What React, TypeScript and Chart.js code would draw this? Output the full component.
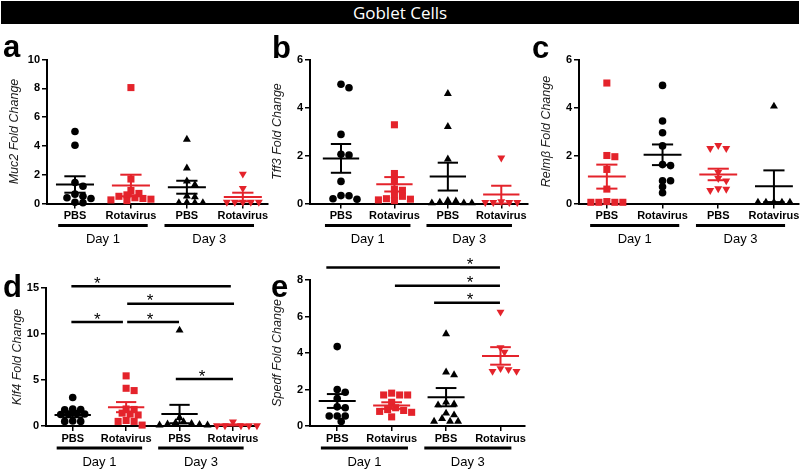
import React, { useEffect, useRef } from "react";
import { Chart, registerables } from "chart.js";
Chart.register(...registerables);

const groupLabels = ["PBS", "Rotavirus", "PBS", "Rotavirus"];
const dayLabels = ["Day 1", "Day 3"];

// a — Muc2
const muc2PbsD1 = [5.0, 4.05, 1.45, 1.2, 0.65, 0.5, 0.4, 0.35, 0.05, 0.08];
const muc2RotaD1 = [8.05, 1.7, 0.9, 0.7, 0.6, 0.5, 0.4, 0.35, 0.3, 0.25, 0.2];
const muc2PbsD3 = [4.45, 2.45, 1.55, 1.3, 0.5, 0.45, 0.08, 0.05, 0.05, 0.05];
const muc2RotaD3 = [2.05, 1.05, 0.1, 0.1, 0.1, 0.1, 0.1];
const muc2Mean = [1.32, 1.25, 1.13, 0.45];
const muc2Sem = [0.57, 0.75, 0.45, 0.3];

// b — Tff3
const tff3PbsD1 = [4.97, 4.82, 2.88, 2.05, 2.02, 0.92, 0.33, 0.32, 0.2, 0.18];
const tff3RotaD1 = [3.28, 1.25, 0.95, 0.6, 0.55, 0.35, 0.3, 0.2, 0.18, 0.15, 0.12];
const tff3PbsD3 = [4.58, 3.2, 1.85, 0.12, 0.05, 0.02, 0.02, 0.02, 0.1];
const tff3RotaD3 = [1.9, 0.08, 0.05, 0.05, 0.05, 0.05];
const tff3Mean = [1.88, 0.8, 1.12, 0.37];
const tff3Sem = [0.6, 0.3, 0.58, 0.37];

// c — Relmβ
const relmPbsD1 = [5.02, 2.0, 1.95, 1.42, 0.6, 0.08, 0.05, 0.05, 0.05, 0.05];
const relmRotaD1 = [4.92, 3.44, 2.95, 2.4, 1.62, 1.58, 0.95, 0.95, 0.7, 0.45];
const relmPbsD3 = [2.42, 2.3, 2.3, 1.3, 1.05, 0.95, 0.62, 0.6, 0.55];
const relmRotaD3 = [4.05, 0.05, 0.05, 0.05, 0.05, 0.05];
const relmMean = [1.12, 2.03, 1.21, 0.72];
const relmSem = [0.5, 0.43, 0.24, 0.66];

// d — Klf4
const klf4PbsD1 = [3.1, 1.85, 1.8, 1.75, 1.35, 1.3, 1.3, 1.25, 0.55, 0.5, 0.5];
const klf4RotaD1 = [5.45, 4.1, 3.85, 1.85, 1.8, 1.4, 1.3, 1.2, 0.6, 0.5, 0.5, 0.1];
const klf4PbsD3 = [10.4, 0.9, 0.45, 0.35, 0.25, 0.2, 0.15, 0.1, 0.1];
const klf4RotaD3 = [0.45, 0.05, 0.05, 0.05, 0.05, 0.05];
const klf4Mean = [1.2, 2.05, 1.3, 0.12];
const klf4Sem = [0.25, 0.55, 1.0, 0.06];
const klf4Sig = [
  { from: 0.975, to: 3.96, y: 15.2, star: 1.46 },
  { from: 2.02, to: 4.02, y: 13.3, star: 2.45 },
  { from: 0.975, to: 1.94, y: 11.3, star: 1.46 },
  { from: 2.02, to: 2.99, y: 11.3, star: 2.45 },
  { from: 2.93, to: 4.0, y: 5.1, star: 3.42 },
];

// e — Spedf
const spedfPbsD1 = [4.35, 2.0, 1.85, 1.5, 1.05, 1.0, 0.55, 0.55, 0.55, 0.25];
const spedfRotaD1 = [1.8, 1.7, 1.7, 1.7, 1.3, 1.0, 0.9, 0.85, 0.8, 0.75, 0.5];
const spedfPbsD3 = [5.05, 2.95, 2.8, 1.3, 1.2, 1.15, 0.7, 0.6, 0.4, 0.25, 0.25, 0.25];
const spedfRotaD3 = [6.25, 4.3, 4.05, 3.1, 3.0, 3.0, 3.15];
const spedfMean = [1.37, 1.12, 1.58, 3.84];
const spedfSem = [0.38, 0.18, 0.5, 0.48];
const spedfSig = [
  { from: 0.8, to: 3.99, y: 8.68, star: 3.44 },
  { from: 2.06, to: 3.99, y: 7.68, star: 3.44 },
  { from: 2.78, to: 3.99, y: 6.76, star: 3.44 },
];

const RED = "#e4232b";
const BLACK = "#000000";
const FONT = '"Liberation Sans", Arial, sans-serif';

type St = { color: string; shape: string };
const stylesStd: St[] = [
  { color: BLACK, shape: "circle" },
  { color: RED, shape: "rect" },
  { color: BLACK, shape: "triangle" },
  { color: RED, shape: "invtriangle" },
];
const stylesC: St[] = [
  { color: RED, shape: "rect" },
  { color: BLACK, shape: "circle" },
  { color: RED, shape: "invtriangle" },
  { color: BLACK, shape: "triangle" },
];

type Sig = { from: number; to: number; y: number; star: number };
type PanelCfg = {
  letter: string;
  title: string;
  values: number[][];
  mean: number[];
  sem: number[];
  sig: Sig[];
  yMax: number;
  yStep: number;
  box: { x: number; y: number; w: number; h: number };
  area: { l: number; t: number; r: number; b: number };
  xMin: number;
  xMax: number;
  titleX: number;
  letterX: number;
  letterBase: number;
  styles: St[];
};

const X_H = 30;

// Column-scatter layout on a 4px lattice: each point takes the nearest free
// horizontal slot around its group centre (staggered rows like GraphPad).
function swarm(vals: number[], pxY: number, pxX: number, step = 4, minDist = 5.5): number[] {
  const order = vals.map((_, i) => i).sort((a, b) => vals[b] - vals[a]);
  const placed: { x: number; y: number }[] = [];
  const res = new Array(vals.length).fill(0);
  for (const i of order) {
    const y = vals[i] * pxY;
    for (let k = 0; k < 80; k++) {
      const x = Math.ceil(k / 2) * (k % 2 === 1 ? 1 : -1) * step;
      if (placed.every((p) => Math.hypot(p.x - x, p.y - y) >= minDist)) {
        placed.push({ x, y });
        res[i] = x / pxX;
        break;
      }
    }
  }
  return res;
}

const panels: PanelCfg[] = [
  {
    letter: "a", title: "Muc2 Fold Change",
    values: [muc2PbsD1, muc2RotaD1, muc2PbsD3, muc2RotaD3], mean: muc2Mean, sem: muc2Sem, sig: [],
    yMax: 10, yStep: 2, box: { x: 0, y: 26, w: 300, h: 224 }, area: { l: 47, t: 59.5, r: 268, b: 203.5 },
    xMin: 0.5, xMax: 4.45, titleX: 15, letterX: 3, letterBase: 57, styles: stylesStd,
  },
  {
    letter: "b", title: "Tff3 Fold Change",
    values: [tff3PbsD1, tff3RotaD1, tff3PbsD3, tff3RotaD3], mean: tff3Mean, sem: tff3Sem, sig: [],
    yMax: 6, yStep: 2, box: { x: 262, y: 26, w: 298, h: 224 }, area: { l: 310, t: 59.5, r: 528, b: 203.5 },
    xMin: 0.42, xMax: 4.5, titleX: 278, letterX: 272, letterBase: 58, styles: stylesStd,
  },
  {
    letter: "c", title: "Relmβ Fold Change",
    values: [relmPbsD1, relmRotaD1, relmPbsD3, relmRotaD3], mean: relmMean, sem: relmSem, sig: [],
    yMax: 6, yStep: 2, box: { x: 531, y: 26, w: 300, h: 224 }, area: { l: 579, t: 59.5, r: 799, b: 203.5 },
    xMin: 0.5, xMax: 4.45, titleX: 547, letterX: 532, letterBase: 58, styles: stylesC,
  },
  {
    letter: "d", title: "Klf4 Fold Change",
    values: [klf4PbsD1, klf4RotaD1, klf4PbsD3, klf4RotaD3], mean: klf4Mean, sem: klf4Sem, sig: klf4Sig,
    yMax: 15, yStep: 5, box: { x: 0, y: 250, w: 290, h: 222 }, area: { l: 46, t: 288, r: 257, b: 426 },
    xMin: 0.5, xMax: 4.45, titleX: 18, letterX: 3, letterBase: 297, styles: stylesStd,
  },
  {
    letter: "e", title: "Spedf Fold Change",
    values: [spedfPbsD1, spedfRotaD1, spedfPbsD3, spedfRotaD3], mean: spedfMean, sem: spedfSem, sig: spedfSig,
    yMax: 8, yStep: 2, box: { x: 262, y: 250, w: 298, h: 222 }, area: { l: 310, t: 280, r: 525, b: 426 },
    xMin: 0.5, xMax: 4.45, titleX: 278, letterX: 271, letterBase: 297, styles: stylesStd,
  },
];

function Panel({ cfg }: { cfg: PanelCfg }) {
  const ref = useRef<HTMLCanvasElement | null>(null);
  useEffect(() => {
    const canvas = ref.current;
    if (!canvas) return;
    const { box, area } = cfg;
    const padT = area.t - box.y;
    const padR = box.x + box.w - area.r;
    const padB = box.y + box.h - area.b - X_H;
    const yW = area.l - box.x;
    const pxY = (area.b - area.t) / cfg.yMax;
    const pxX = (area.r - area.l) / (cfg.xMax - cfg.xMin);

    const datasets = cfg.values.map((vals, i) => {
      const st = cfg.styles[i];
      const jit = swarm(vals, pxY, pxX);
      const inv = st.shape === "invtriangle";
      return {
        type: "scatter" as const,
        data: vals.map((v, j) => ({ x: i + 1 + jit[j], y: v })),
        pointStyle: inv ? "triangle" : st.shape,
        pointRotation: inv ? 180 : 0,
        pointRadius: st.shape === "circle" ? 3.8 : st.shape === "rect" ? 5 : 4.6,
        pointBackgroundColor: st.color,
        pointBorderColor: st.color,
        pointBorderWidth: 0,
        showLine: false,
        clip: false as any,
      };
    });

    const extras = {
      id: "extras",
      afterDatasetsDraw(chart: any) {
        const ctx = chart.ctx as CanvasRenderingContext2D;
        const xs = chart.scales.x;
        const ys = chart.scales.y;
        const ca = chart.chartArea;
        const line = (x1: number, y1: number, x2: number, y2: number) => {
          ctx.beginPath();
          ctx.moveTo(x1, y1);
          ctx.lineTo(x2, y2);
          ctx.stroke();
        };
        ctx.save();
        // mean ± SEM
        cfg.mean.forEach((m, i) => {
          const c = i + 1;
          const s = cfg.sem[i];
          ctx.strokeStyle = cfg.styles[i].color;
          ctx.lineWidth = 2;
          const yM = ys.getPixelForValue(m);
          const yT = ys.getPixelForValue(m + s);
          const yB = ys.getPixelForValue(Math.max(0, m - s));
          line(xs.getPixelForValue(c - 0.34), yM, xs.getPixelForValue(c + 0.34), yM);
          line(xs.getPixelForValue(c - 0.19), yT, xs.getPixelForValue(c + 0.19), yT);
          line(xs.getPixelForValue(c - 0.19), yB, xs.getPixelForValue(c + 0.19), yB);
          const xc = xs.getPixelForValue(c);
          line(xc, yT, xc, yB);
        });
        // underlines & day labels
        ctx.strokeStyle = BLACK;
        ctx.fillStyle = BLACK;
        ctx.lineWidth = 3;
        const uy = ca.bottom + 22;
        const spans = [[0.7, 2.3], [2.6, 4.2]];
        spans.forEach((sp, k) => {
          const x1 = xs.getPixelForValue(sp[0]);
          const x2 = xs.getPixelForValue(sp[1]);
          line(x1, uy, x2, uy);
          ctx.font = `13px ${FONT}`;
          ctx.textAlign = "center";
          ctx.textBaseline = "middle";
          ctx.fillText(dayLabels[k], (x1 + x2) / 2, ca.bottom + 36);
        });
        // significance bars
        cfg.sig.forEach((sg) => {
          const y = ys.getPixelForValue(sg.y);
          ctx.lineWidth = 2.5;
          line(xs.getPixelForValue(sg.from), y, xs.getPixelForValue(sg.to), y);
          ctx.font = `17px ${FONT}`;
          ctx.textAlign = "center";
          ctx.textBaseline = "alphabetic";
          ctx.fillText("*", xs.getPixelForValue(sg.star), y + 2.5);
        });
        // y title
        ctx.save();
        ctx.translate(cfg.titleX - box.x, (ca.top + ca.bottom) / 2);
        ctx.rotate(-Math.PI / 2);
        ctx.font = `italic 12.5px ${FONT}`;
        ctx.fillStyle = "#1a1a1a";
        ctx.textAlign = "center";
        ctx.textBaseline = "middle";
        ctx.fillText(cfg.title, 0, 0);
        ctx.restore();
        // panel letter
        ctx.font = `bold 31px ${FONT}`;
        ctx.textAlign = "left";
        ctx.textBaseline = "alphabetic";
        ctx.fillStyle = BLACK;
        ctx.fillText(cfg.letter, cfg.letterX - box.x, cfg.letterBase - box.y);
        ctx.restore();
      },
    };

    const tickFont = { family: FONT, size: 11, weight: "bold" as const };
    const chart = new Chart(canvas, {
      type: "scatter",
      data: { datasets: datasets as any },
      options: {
        animation: false,
        responsive: false,
        maintainAspectRatio: false,
        layout: { padding: { left: 0, top: padT, right: padR, bottom: padB } },
        plugins: { legend: { display: false }, tooltip: { enabled: false } },
        scales: {
          x: {
            type: "linear",
            min: cfg.xMin,
            max: cfg.xMax,
            afterBuildTicks: (s: any) => {
              s.ticks = [1, 2, 3, 4].map((v) => ({ value: v }));
            },
            afterFit: (s: any) => {
              s.height = X_H;
              s.paddingLeft = 0;
              s.paddingRight = 0;
            },
            ticks: {
              callback: (v: any) => groupLabels[Math.round(Number(v)) - 1] ?? "",
              font: tickFont,
              color: BLACK,
              padding: 1,
              autoSkip: false,
              maxRotation: 0,
              minRotation: 0,
            },
            grid: { display: true, drawOnChartArea: false, drawTicks: true, tickLength: 5, color: BLACK, lineWidth: 1.5 },
            border: { display: true, color: BLACK, width: 2 },
          },
          y: {
            type: "linear",
            min: 0,
            max: cfg.yMax,
            afterFit: (s: any) => {
              s.width = yW;
              s.paddingTop = 0;
              s.paddingBottom = 0;
            },
            ticks: { stepSize: cfg.yStep, font: tickFont, color: BLACK, padding: 2 },
            grid: { display: true, drawOnChartArea: false, drawTicks: true, tickLength: 5, color: BLACK, lineWidth: 1.5 },
            border: { display: true, color: BLACK, width: 2 },
          },
        },
      },
      plugins: [extras],
    });
    return () => chart.destroy();
  }, [cfg]);
  return (
    <canvas
      ref={ref}
      width={cfg.box.w}
      height={cfg.box.h}
      style={{ position: "absolute", left: cfg.box.x, top: cfg.box.y, width: cfg.box.w, height: cfg.box.h }}
    />
  );
}

export default function App() {
  return (
    <div
      style={{
        position: "fixed",
        left: 0,
        top: 0,
        width: 800,
        height: 472,
        background: "#ffffff",
        overflow: "hidden",
      }}
    >
      <div
        style={{
          position: "absolute",
          left: 1,
          top: 1,
          width: 798,
          height: 23,
          background: "#000",
          color: "#fff",
          textAlign: "center",
          font: '17px "Open Sans", sans-serif',
          lineHeight: "23px",
        }}
      >
        Goblet Cells
      </div>
      {panels.map((p) => (
        <Panel key={p.letter} cfg={p} />
      ))}
    </div>
  );
}
